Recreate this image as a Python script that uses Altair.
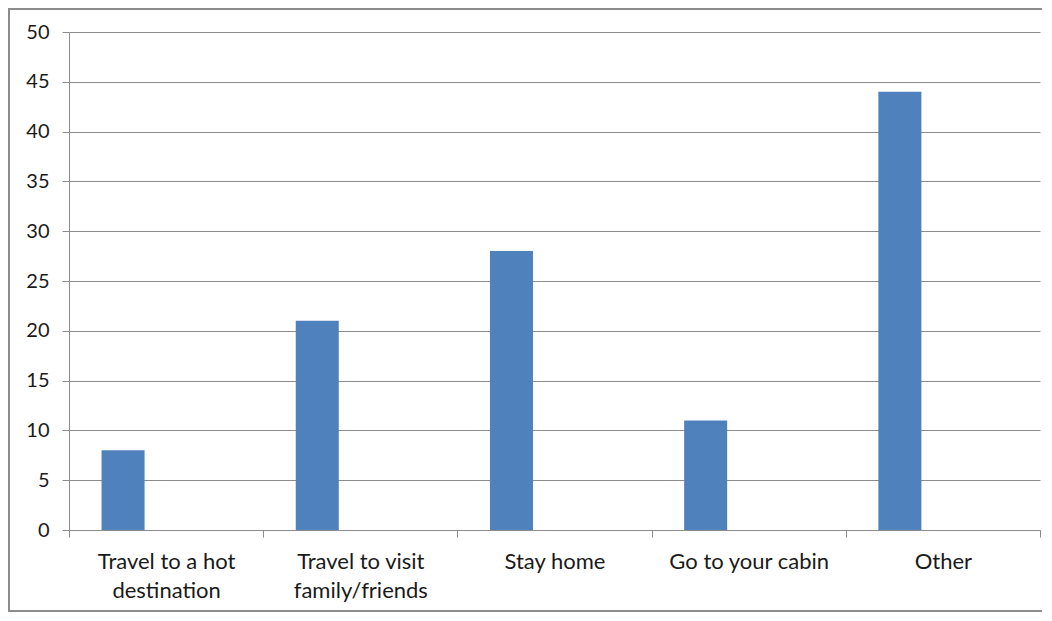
import altair as alt
import pandas as pd

categories = ["Travel to a hot\ndestination", "Travel to visit\nfamily/friends", "Stay home", "Go to your cabin", "Other"]
values = [8, 21, 28, 11, 44]
series = ["Series1"] * len(categories)
series_domain = ["Series1", "Series2", "Series3"]
y_ticks = [0, 5, 10, 15, 20, 25, 30, 35, 40, 45, 50]

df = pd.DataFrame({"category": categories, "value": values, "series": series})

FONT = "Lato"
GRID = "#8c8c8c"

bars = alt.Chart(df).mark_bar(color="#4F81BD").encode(
    x=alt.X("category:N", sort=categories,
            scale=alt.Scale(paddingInner=0, paddingOuter=0),
            axis=alt.Axis(title=None, labelAngle=0, tickBand="extent", tickSize=7,
                          tickColor=GRID, domainColor=GRID, labelFont=FONT, labelFontSize=22,
                          labelColor="#1a1a1a", labelPadding=14, labelLineHeight=29,
                          labelExpr="split(datum.label, '\\n')", grid=False)),
    xOffset=alt.XOffset("series:N", scale=alt.Scale(domain=series_domain, paddingInner=0, paddingOuter=0.756)),
    y=alt.Y("value:Q", scale=alt.Scale(domain=[0, 50], nice=False),
            axis=alt.Axis(title=None, values=y_ticks, tickSize=7, tickColor=GRID, domainColor=GRID,
                          gridColor=GRID, gridOpacity=1, labelFont=FONT, labelFontSize=20,
                          labelColor="#1a1a1a", labelPadding=13)),
)

frame = alt.Chart(pd.DataFrame({"k": [0]})).mark_rect(fill=None, stroke="#8c8c8c", strokeWidth=2).encode(
    x=alt.value(-60), x2=alt.value(1100), y=alt.value(-23), y2=alt.value(579)
)

chart = alt.layer(frame, bars).properties(
    width=971, height=498,
    autosize=alt.AutoSizeParams(type="none"),
    padding={"left": 61, "top": 24, "right": 2, "bottom": 83},
    background="white",
).configure_view(stroke=None)

chart.save("out.html", embed_options={"renderer": "svg", "actions": False})
